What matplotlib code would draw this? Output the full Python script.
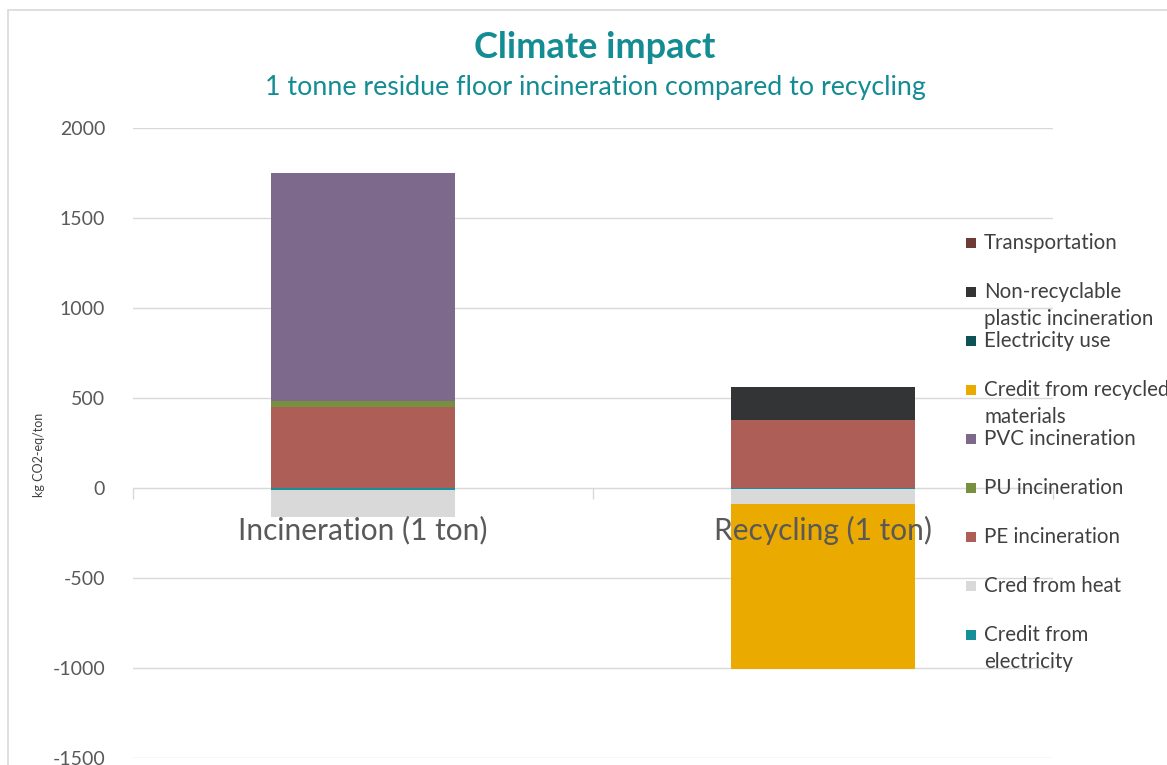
import numpy as np
import matplotlib.pyplot as plt
from matplotlib.patches import Rectangle

plt.rcParams['font.family'] = ['Lato', 'DejaVu Sans']
plt.rcParams['axes.unicode_minus'] = False

# data (kg CO2-eq per ton)
categories = ["Incineration (1 ton)", "Recycling (1 ton)"]
credit_electricity = [-12, -3]
cred_heat = [-150, -86]
pe_incineration = [450, 378]
pu_incineration = [32, 0]
pvc_incineration = [1268, 0]
credit_recycled = [0, -915]
electricity_use = [0, 0]
non_recyclable = [0, 185]
transportation = [0, 0]

# stacking order (bottom first), as in the source chart
series = [
    ("Credit from\nelectricity", credit_electricity, "#178f98"),
    ("Cred from heat", cred_heat, "#d9d9d9"),
    ("PE incineration", pe_incineration, "#ad5e56"),
    ("PU incineration", pu_incineration, "#76903f"),
    ("PVC incineration", pvc_incineration, "#7d698c"),
    ("Credit from recycled\nmaterials", credit_recycled, "#ebaa00"),
    ("Electricity use", electricity_use, "#0e5257"),
    ("Non-recyclable\nplastic incineration", non_recyclable, "#333436"),
    ("Transportation", transportation, "#6f3b36"),
]

W, H = 1167, 765
fig = plt.figure(figsize=(W / 100, H / 100), dpi=100)

# chart area border
fig.add_artist(Rectangle((8 / W, -0.1), 1.2, (H - 10) / H + 0.1, transform=fig.transFigure,
                         fill=False, edgecolor="#d9d9d9", lw=1.2))

ax = fig.add_axes([133 / W, (H - 758) / H, (1053 - 133) / W, (758 - 128) / H])

x = np.arange(len(categories))
pos_bottom = np.zeros(len(categories))
neg_bottom = np.zeros(len(categories))
for label, vals, color in series:
    vals = np.array(vals, dtype=float)
    bottom = np.where(vals >= 0, pos_bottom, neg_bottom)
    ax.bar(x, vals, width=0.4, bottom=bottom, color=color, linewidth=0, zorder=2)
    pos_bottom += np.clip(vals, 0, None)
    neg_bottom += np.clip(vals, None, 0)

ax.set_xlim(-0.5, 1.5)
ax.set_ylim(-1500, 2000)
ax.set_yticks(np.arange(-1500, 2001, 500))
ax.yaxis.grid(True, color="#d9d9d9", lw=1)
ax.set_axisbelow(True)
ax.tick_params(axis="y", length=0, pad=20, labelsize=14, labelcolor="#595959")
ax.set_ylabel("kg CO2-eq/ton", fontsize=9, color="#404040")
ax.yaxis.set_label_coords(-0.096, 0.481)

for s in ["top", "right", "left"]:
    ax.spines[s].set_visible(False)
ax.spines["bottom"].set_position(("data", 0))
ax.spines["bottom"].set_color("#d9d9d9")
ax.spines["bottom"].set_zorder(1)
ax.set_xticks(x)
ax.set_xticklabels([])
ax.set_xticks([-0.5, 0.5, 1.5], minor=True)
ax.tick_params(axis="x", which="major", length=0)
ax.tick_params(axis="x", which="minor", length=8, color="#d9d9d9", width=1)

# category labels sit just under the zero line, on top of the bars
for xi, cat in zip(x, categories):
    ax.annotate(cat, (xi, 0), xytext=(0, -42), textcoords="offset pixels",
                ha="center", va="center", fontsize=21.5, color="#595959", zorder=5)

fig.text(595 / W, 1 - 47 / H, "Climate impact", ha="center", va="center",
         fontsize=26, fontweight="bold", color="#148c93")
fig.text(595 / W, 1 - 88 / H, "1 tonne residue floor incineration compared to recycling",
         ha="center", va="center", fontsize=19.3, color="#148c93")

# legend, drawn in reverse stacking order like the source
ly = 243
for label, vals, color in series[::-1]:
    fig.add_artist(Rectangle((966 / W, 1 - (ly + 5) / H), 10 / W, 10 / H,
                             transform=fig.transFigure, color=color, lw=0))
    fig.text(984 / W, 1 - (ly - 10) / H, label, ha="left", va="top", fontsize=14.8,
             color="#404040", linespacing=1.45)
    ly += 49

fig.savefig("out.png", dpi=100)
